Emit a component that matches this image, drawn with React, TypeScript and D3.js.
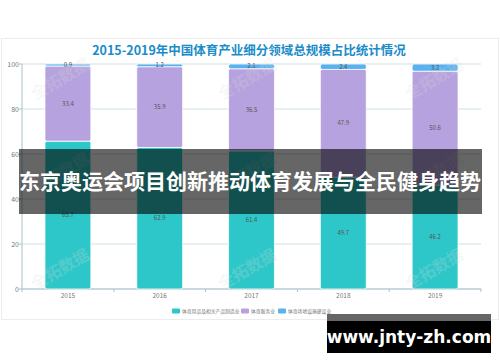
import React from 'react';
import * as d3 from 'd3';

const years = ['2015', '2016', '2017', '2018', '2019'];
const manufacturing = [65.7, 62.9, 61.4, 49.7, 46.2];
const services = [33.4, 35.9, 36.5, 47.9, 50.6];
const construction = [0.9, 1.2, 2.1, 2.4, 3.2];
const seriesNames = ['体育用品及相关产品制造业', '体育服务业', '体育场地设施建设业'];
const yTicks = [0, 20, 40, 60, 80, 100];

const title = '2015-2019年中国体育产业细分领域总规模占比统计情况';
const banner = '东京奥运会项目创新推动体育发展与全民健身趋势';
const site = 'www.jnty-zh.com';
const watermark = '全拓数据';

const colors = ['#2ec7c9', '#b6a2de', '#5ab1ef'];
const cjk = '"Noto Sans CJK SC", "Noto Sans", sans-serif';

export default function App() {
  const W = 500;
  const H = 362;
  const left = 22;
  const right = 481;
  const top = 64;
  const bottom = 289;

  const rows = years.map((year, i) => ({
    year,
    s0: manufacturing[i],
    s1: services[i],
    s2: construction[i],
  }));
  const keys = ['s0', 's1', 's2'];
  const stacked = d3.stack<any>().keys(keys)(rows);

  const x = d3.scaleBand().domain(years).range([left, right]).paddingInner(0.5).paddingOuter(0.25);
  const y = d3.scaleLinear().domain([0, 100]).range([bottom, top]);
  const step = x.step();
  const boundaries = d3.range(years.length + 1).map((i) => left + i * step);

  const legendPos = [
    { sx: 172, tx: 182 },
    { sx: 241, tx: 251 },
    { sx: 278, tx: 288 },
  ];

  const wmX = [63, 250, 437];
  const wmY = [84, 178, 274];

  return (
    <svg width={W} height={H} style={{ position: 'absolute', left: 0, top: 0, background: '#fff' }}>
      {/* card */}
      <rect x={1.5} y={38.5} width={497} height={281} fill="#fff" stroke="#ececec" />

      <text x={249} y={54.5} textAnchor="middle" fontFamily={cjk} fontWeight="bold" fontSize={12.5} fill="#1b8cc9">
        {title}
      </text>

      {/* grid */}
      {yTicks.map((t) => (
        <g key={t}>
          <line x1={left} x2={right} y1={y(t)} y2={y(t)} stroke="#cfdfe3" strokeWidth={1} />
          <line x1={left - 3} x2={left} y1={y(t)} y2={y(t)} stroke="#a9c3c8" />
          <text x={left - 3} y={y(t) + 2.5} textAnchor="end" fontFamily={cjk} fontSize={7} fill="#777">
            {t}
          </text>
        </g>
      ))}
      <line x1={left} x2={left} y1={top} y2={bottom} stroke="#a9c3c8" />
      <line x1={left} x2={right} y1={bottom} y2={bottom} stroke="#a9c3c8" />
      {boundaries.map((bx, i) => (
        <line key={i} x1={bx} x2={bx} y1={bottom} y2={bottom + 3} stroke="#a9c3c8" />
      ))}
      {years.map((yr) => (
        <text key={yr} x={(x(yr) as number) + x.bandwidth() / 2} y={298} textAnchor="middle" fontFamily={cjk} fontSize={6.5} fill="#777">
          {yr}
        </text>
      ))}

      {/* bars */}
      {stacked.map((layer, li) => (
        <g key={li}>
          {layer.map((d: any) => {
            const bx = x(d.data.year) as number;
            const y0 = y(d[1]);
            const h = y(d[0]) - y(d[1]);
            return (
              <g key={d.data.year}>
                <rect x={bx} y={y0} width={x.bandwidth()} height={h} rx={2} fill={colors[li]} stroke="#fff" strokeWidth={0.8} />
                <text x={bx + x.bandwidth() / 2} y={y0 + h / 2 + 2} textAnchor="middle" fontFamily={cjk} fontSize={6} fill="#555">
                  {d.data[keys[li]]}
                </text>
              </g>
            );
          })}
        </g>
      ))}

      {/* watermark */}
      {wmY.map((wy) =>
        wmX.map((wx) => (
          <text key={`${wx}-${wy}`} x={wx} y={wy} textAnchor="middle" fontFamily={cjk} fontWeight="bold" fontSize={16}
            fill="#dcdcdc" opacity={0.22} transform={`rotate(-30 ${wx} ${wy})`}>
            {watermark}
          </text>
        ))
      )}

      {/* legend */}
      {seriesNames.map((n, i) => (
        <g key={n}>
          <rect x={legendPos[i].sx} y={308.5} width={8} height={5} rx={1} fill={colors[i]} />
          <text x={legendPos[i].tx} y={313} fontFamily={cjk} fontSize={4.8} fill="#777">
            {n}
          </text>
        </g>
      ))}

      {/* banner overlay */}
      <rect x={19} y={149} width={463} height={65} fill="#000" opacity={0.6} />
      <text x={250} y={188.5} textAnchor="middle" fontFamily={cjk} fontWeight="bold" fontSize={21} fill="#fff">
        {banner}
      </text>

      {/* site box */}
      <rect x={327} y={314} width={164} height={7} fill="#666" />
      <rect x={327} y={321} width={164} height={32} fill="#000" />
      <text x={409} y={343} textAnchor="middle" fontFamily='"DejaVu Sans", sans-serif' fontWeight="bold" fontSize={17} fill="#fff">
        {site}
      </text>
    </svg>
  );
}
